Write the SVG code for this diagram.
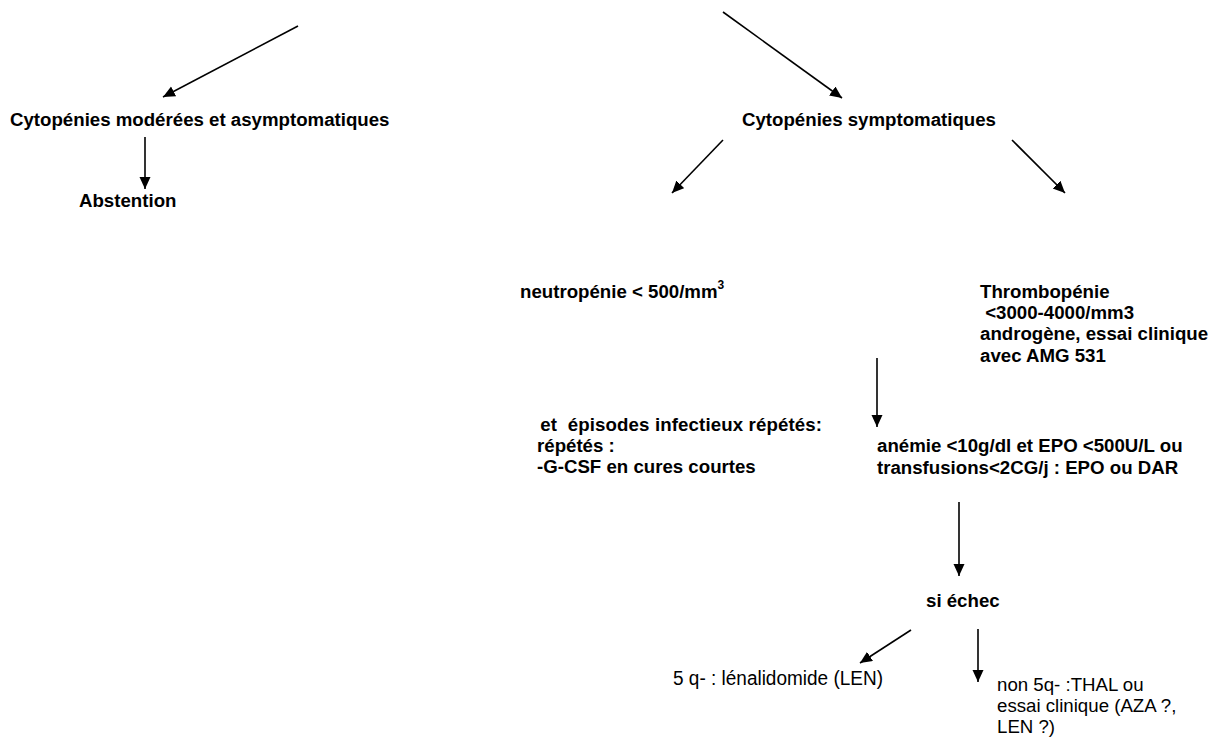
<svg xmlns="http://www.w3.org/2000/svg" width="1218" height="738" viewBox="0 0 1218 738">
<style>
text{font-family:"Liberation Sans",Arial,sans-serif;fill:#000;white-space:pre}
.b{font-weight:bold;font-size:18.67px}
.r{font-size:18.67px}
.edge{stroke:#000;stroke-width:1.6;fill:none;marker-end:url(#ah)}
</style>
<defs>
<marker id="ah" markerUnits="userSpaceOnUse" markerWidth="13" markerHeight="12" refX="12" refY="5.5" orient="auto">
<path d="M0,0 L12,5.5 L0,11 Z" fill="#000"/>
</marker>
</defs>
<rect width="1218" height="738" fill="#fff"/>
<g id="connectors">
<line class="edge" x1="298" y1="26" x2="163" y2="97"/>
<line class="edge" x1="723" y1="12" x2="842" y2="98"/>
<line class="edge" x1="145" y1="137" x2="145" y2="189"/>
<line class="edge" x1="723" y1="140" x2="672" y2="193"/>
<line class="edge" x1="1012" y1="140" x2="1065" y2="193"/>
<line class="edge" x1="877" y1="358" x2="877" y2="427"/>
<line class="edge" x1="959" y1="502" x2="959" y2="576"/>
<line class="edge" x1="911" y1="630" x2="860" y2="663"/>
<line class="edge" x1="978" y1="629" x2="978" y2="682"/>
</g>
<g id="n-moderees"><text class="b" x="10" y="126">Cytopénies modérées et asymptomatiques</text></g>
<g id="n-abstention"><text class="b" x="79" y="207">Abstention</text></g>
<g id="n-symptomatiques"><text class="b" x="742" y="126">Cytopénies symptomatiques</text></g>
<g id="n-neutropenie"><text class="b" x="520" y="298">neutropénie &lt; 500/mm<tspan font-size="12" dy="-9">3</tspan></text></g>
<g id="n-thrombopenie">
<text class="b" x="980" y="298">Thrombopénie</text>
<text class="b" x="980" y="319"> &lt;3000-4000/mm3</text>
<text class="b" x="980" y="340">androgène, essai clinique</text>
<text class="b" x="980" y="362">avec AMG 531</text>
</g>
<g id="n-infectieux">
<text class="b" x="535" y="431" textLength="287"> et  épisodes infectieux répétés:</text>
<text class="b" x="537" y="452">répétés :</text>
<text class="b" x="537" y="473">-G-CSF en cures courtes</text>
</g>
<g id="n-anemie">
<text class="b" x="877" y="452">anémie &lt;10g/dl et EPO &lt;500U/L ou</text>
<text class="b" x="877" y="474">transfusions&lt;2CG/j : EPO ou DAR</text>
</g>
<g id="n-echec"><text class="b" x="926" y="607">si échec</text></g>
<g id="n-5q"><text x="673" y="685" font-size="19.5" textLength="210" lengthAdjust="spacingAndGlyphs">5 q- : lénalidomide (LEN)</text></g>
<g id="n-non5q">
<text class="r" x="997" y="691">non 5q- :THAL ou</text>
<text class="r" x="997" y="712">essai clinique (AZA ?,</text>
<text class="r" x="997" y="733">LEN ?)</text>
</g>
</svg>
